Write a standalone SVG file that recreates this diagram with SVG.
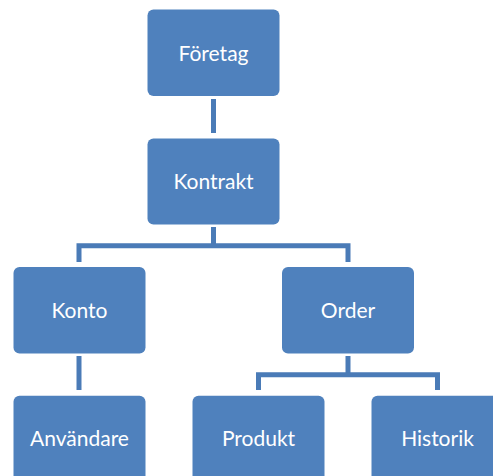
<svg xmlns="http://www.w3.org/2000/svg" width="493" height="476" viewBox="0 0 493 476">
  <style>
    .box { fill: #4F81BD; }
    .lbl { fill: #FFFFFF; font-family: Lato, "Open Sans", "Liberation Sans", sans-serif; font-size: 21px; text-anchor: middle; }
    .link { fill: none; stroke: #4A7BB7; stroke-width: 5; stroke-linejoin: miter; stroke-linecap: butt; }
  </style>
  <rect width="493" height="476" fill="#FFFFFF"/>

  <g id="connectors">
    <path class="link" d="M213.5,99 V133"/>
    <path class="link" d="M213.5,227 V245.8"/>
    <path class="link" d="M79,262 V245.8 H348 V262"/>
    <path class="link" d="M79,356 V390"/>
    <path class="link" d="M348,356 V374.8"/>
    <path class="link" d="M258.5,390 V374.8 H437.5 V390"/>
  </g>

  <g id="foretag">
    <rect class="box" x="147.5" y="9.5" width="132" height="86.5" rx="6"/>
    <text class="lbl" x="213.5" y="60.5">Företag</text>
  </g>
  <g id="kontrakt">
    <rect class="box" x="147.5" y="138.5" width="132" height="86" rx="6"/>
    <text class="lbl" x="213.5" y="188.5">Kontrakt</text>
  </g>
  <g id="konto">
    <rect class="box" x="13.5" y="267" width="132" height="86.5" rx="6"/>
    <text class="lbl" x="79.5" y="317.5">Konto</text>
  </g>
  <g id="order">
    <rect class="box" x="282" y="267" width="132" height="86.5" rx="6"/>
    <text class="lbl" x="348" y="317.5">Order</text>
  </g>
  <g id="anvandare">
    <rect class="box" x="13.5" y="395.7" width="132" height="86.5" rx="6"/>
    <text class="lbl" x="79.5" y="446">Användare</text>
  </g>
  <g id="produkt">
    <rect class="box" x="192.5" y="395.7" width="132" height="86.5" rx="6"/>
    <text class="lbl" x="258.5" y="446">Produkt</text>
  </g>
  <g id="historik">
    <rect class="box" x="371.5" y="395.7" width="132" height="86.5" rx="6"/>
    <text class="lbl" x="437.5" y="446">Historik</text>
  </g>
</svg>
